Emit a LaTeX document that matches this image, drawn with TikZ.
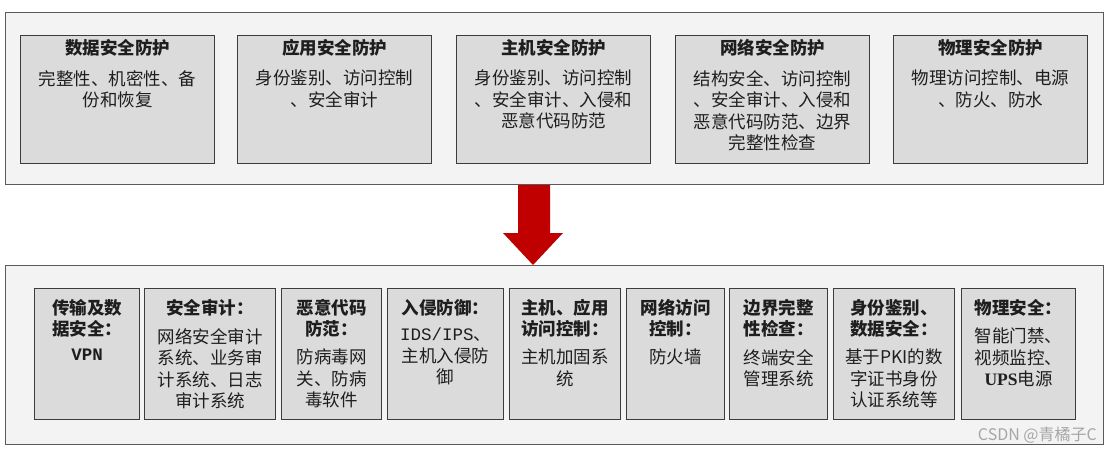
\documentclass[tikz,border=0pt]{standalone}
\usepackage{fontspec}
\setmainfont{Noto Sans CJK SC}
\newfontfamily\mono{Liberation Mono}
\newfontfamily\serifb{Liberation Serif}
\usetikzlibrary{calc}
\definecolor{outerfill}{HTML}{F3F3F3}
\definecolor{outerdraw}{HTML}{5A5A5A}
\definecolor{innerfill}{HTML}{DBDBDB}
\definecolor{innerdraw}{HTML}{3C3C3C}
\definecolor{arrowred}{HTML}{C00000}
\definecolor{txt}{HTML}{1E1E1E}
\tikzset{
 outerbox/.style={draw=outerdraw, fill=outerfill, line width=1.2pt, anchor=north west, inner sep=0pt},
 innerbox/.style={draw=innerdraw, fill=innerfill, line width=1.2pt, anchor=north west, inner sep=0pt},
 topbox/.style={innerbox, minimum width=194pt, minimum height=128pt},
 botbox/.style={innerbox, minimum height=131pt},
 ttl/.style={font=\fontsize{17.5}{21.5}\selectfont\bfseries, inner sep=0pt, anchor=north, text=txt},
 ttll/.style={ttl, align=left},
 ttlc/.style={ttl, align=center},
 bdy/.style={font=\fontsize{17.5}{21.5}\selectfont, inner sep=0pt, anchor=north, align=center, text=txt},
}
\begin{document}
\begin{tikzpicture}[x=1pt,y=-1pt]
\useasboundingbox (0,0) rectangle (1112,452);
\fill[white] (0,0) rectangle (1112,452);

% outer frames
\node[outerbox, minimum width=1098pt, minimum height=172pt] (top) at (5,12) {};
\node[outerbox, minimum width=1098pt, minimum height=179pt] (bot) at (5,265) {};

% top boxes
\node[topbox] (t1) at (20,35) {};
\node[topbox] (t2) at (237,35) {};
\node[topbox] (t3) at (456,35) {};
\node[topbox] (t4) at (675,35) {};
\node[topbox] (t5) at (893,35) {};

\node[ttlc] (t1h) at ($(t1.north)+(0,4.5)$) {数据安全防护};
\node[bdy]  (t1b) at ($(t1.north)+(0,35)$) {完整性、机密性、备\\份和恢复};
\node[ttlc] (t2h) at ($(t2.north)+(0,4.5)$) {应用安全防护};
\node[bdy]  (t2b) at ($(t2.north)+(0,35)$) {身份鉴别、访问控制\\、安全审计};
\node[ttlc] (t3h) at ($(t3.north)+(0,4.5)$) {主机安全防护};
\node[bdy]  (t3b) at ($(t3.north)+(0,35)$) {身份鉴别、访问控制\\、安全审计、入侵和\\恶意代码防范};
\node[ttlc] (t4h) at ($(t4.north)+(0,4.5)$) {网络安全防护};
\node[bdy]  (t4b) at ($(t4.north)+(0,35)$) {结构安全、访问控制\\、安全审计、入侵和\\恶意代码防范、边界\\完整性检查};
\node[ttlc] (t5h) at ($(t5.north)+(0,4.5)$) {物理安全防护};
\node[bdy]  (t5b) at ($(t5.north)+(0,35)$) {物理访问控制、电源\\、防火、防水};

% arrow
\coordinate (ax) at (533,0);
\fill[arrowred] ($(top.south -| ax)+(-15,0)$) -- ($(top.south -| ax)+(17,0)$)
  -- ($(bot.north -| ax)+(17,-32)$) -- ($(bot.north -| ax)+(30,-32)$)
  -- (bot.north -| ax) -- ($(bot.north -| ax)+(-30,-32)$)
  -- ($(bot.north -| ax)+(-15,-32)$) -- cycle;

% bottom boxes
\node[botbox, minimum width=105pt] (b1) at (34,288) {};
\node[botbox, minimum width=131pt] (b2) at (144,288) {};
\node[botbox, minimum width=100pt] (b3) at (281,288) {};
\node[botbox, minimum width=116pt] (b4) at (387,288) {};
\node[botbox, minimum width=111pt] (b5) at (509,288) {};
\node[botbox, minimum width=98pt]  (b6) at (626,288) {};
\node[botbox, minimum width=98pt]  (b7) at (729,288) {};
\node[botbox, minimum width=121pt] (b8) at (833,288) {};
\node[botbox, minimum width=114pt] (b9) at (961,288) {};

\node[ttll] (b1h) at ($(b1.north)+(0,11)$) {传输及数\\据安全：};
\node[bdy]  (b1b) at ($(b1.north)+(0,61)$) {{\mono\bfseries VPN}};
\node[ttll] (b2h) at ($(b2.north)+(0,11)$) {安全审计：};
\node[bdy]  (b2b) at ($(b2.north)+(0,40)$) {网络安全审计\\系统、业务审\\计系统、日志\\审计系统};
\node[ttlc] (b3h) at ($(b3.north)+(0,11)$) {恶意代码\\防范：};
\node[bdy]  (b3b) at ($(b3.north)+(0,61)$) {防病毒网\\关、防病\\毒软件};
\node[ttll] (b4h) at ($(b4.north)+(0,11)$) {入侵防御：};
\node[bdy]  (b4b) at ($(b4.north)+(0,40)$) {{\mono IDS/IPS}、\\主机入侵防\\御};
\node[ttll] (b5h) at ($(b5.north)+(0,11)$) {主机、应用\\访问控制：};
\node[bdy]  (b5b) at ($(b5.north)+(0,61)$) {主机加固系\\统};
\node[ttlc] (b6h) at ($(b6.north)+(0,11)$) {网络访问\\控制：};
\node[bdy]  (b6b) at ($(b6.north)+(0,61)$) {防火墙};
\node[ttll] (b7h) at ($(b7.north)+(0,11)$) {边界完整\\性检查：};
\node[bdy]  (b7b) at ($(b7.north)+(0,61)$) {终端安全\\管理系统};
\node[ttll] (b8h) at ($(b8.north)+(0,11)$) {身份鉴别、\\数据安全：};
\node[bdy]  (b8b) at ($(b8.north)+(0,61)$) {基于PKI的数\\字证书身份\\认证系统等};
\node[ttll] (b9h) at ($(b9.north)+(0,11)$) {物理安全：};
\node[bdy]  (b9b) at ($(b9.north)+(0,40)$) {智能门禁、\\视频监控、\\{\serifb\bfseries UPS}电源};

% watermark
\node[font=\fontsize{16}{16}\selectfont, text=gray!70, anchor=base east, inner sep=0pt] (wm) at (1097,440) {CSDN @青橘子C};
\end{tikzpicture}
\end{document}
